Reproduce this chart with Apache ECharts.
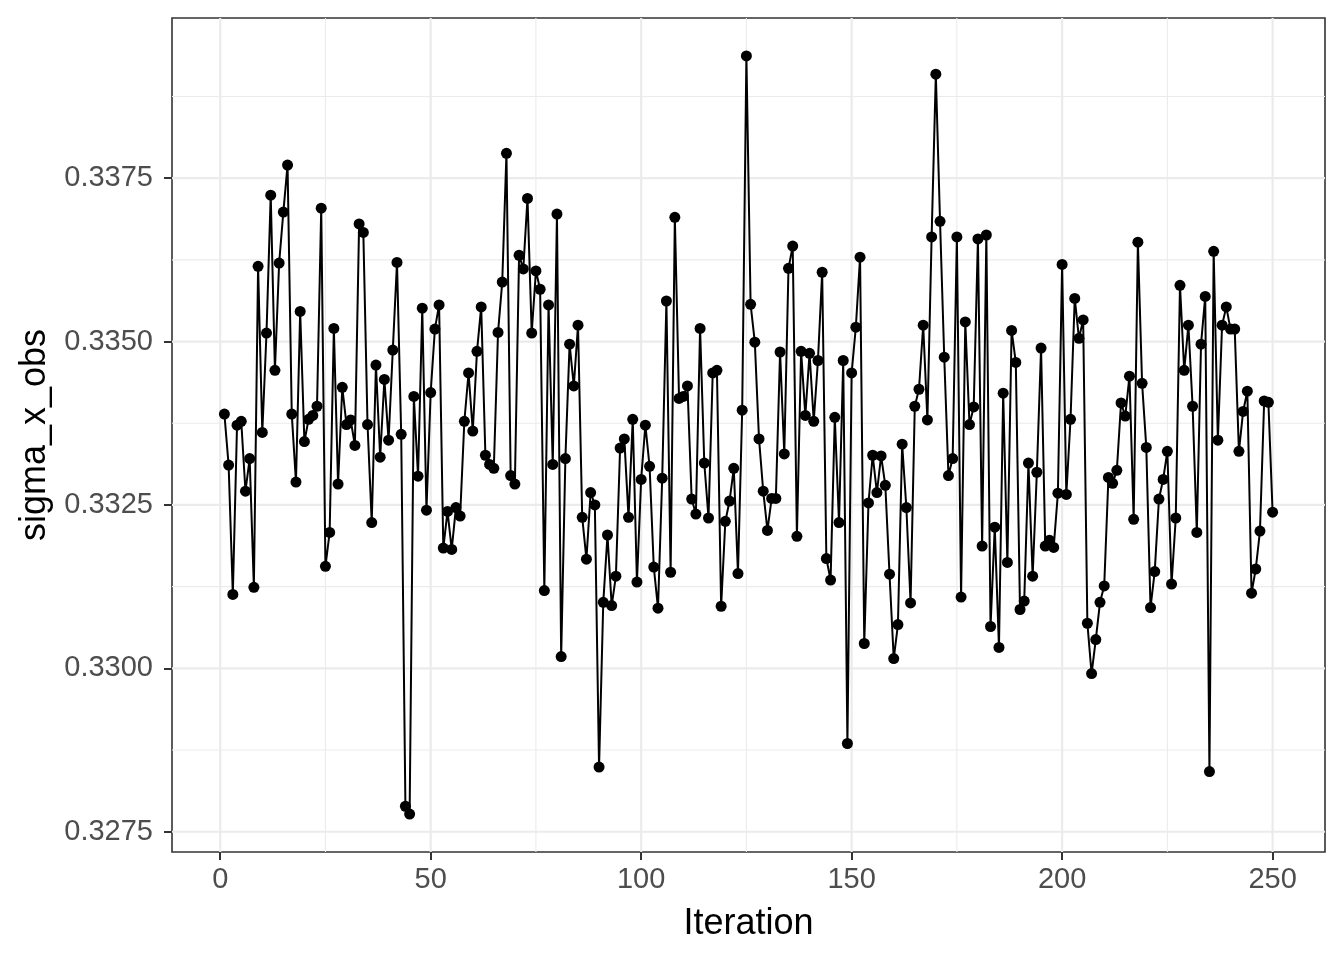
<!DOCTYPE html>
<html>
<head>
<meta charset="utf-8">
<script src="https://cdn.jsdelivr.net/npm/echarts@6/dist/echarts.min.js"></script>
<style>
  html, body { margin: 0; padding: 0; background: #fff; }
  #chart { width: 1344px; height: 960px; }
</style>
</head>
<body>
<div id="chart"></div>
<script>
// sigma_x_obs trace, iterations 1..250
var sigmaXObs = [
  0.33389, 0.33311, 0.33113, 0.33372, 0.33378, 0.33271, 0.33321, 0.33124, 0.33615, 0.33361,
  0.33513, 0.33724, 0.33456, 0.33620, 0.33698, 0.33770, 0.33389, 0.33285, 0.33546, 0.33347,
  0.33381, 0.33387, 0.33401, 0.33704, 0.33156, 0.33208, 0.33520, 0.33282, 0.33430, 0.33373,
  0.33380, 0.33341, 0.33680, 0.33667, 0.33373, 0.33223, 0.33464, 0.33323, 0.33442, 0.33349,
  0.33487, 0.33621, 0.33358, 0.32789, 0.32777, 0.33416, 0.33294, 0.33551, 0.33242, 0.33422,
  0.33519, 0.33556, 0.33184, 0.33240, 0.33182, 0.33246, 0.33233, 0.33378, 0.33452, 0.33363,
  0.33485, 0.33553, 0.33326, 0.33312, 0.33306, 0.33514, 0.33591, 0.33788, 0.33295, 0.33282,
  0.33632, 0.33611, 0.33719, 0.33513, 0.33608, 0.33580, 0.33119, 0.33556, 0.33312, 0.33695,
  0.33018, 0.33321, 0.33496, 0.33432, 0.33525, 0.33231, 0.33167, 0.33269, 0.33250, 0.32849,
  0.33101, 0.33204, 0.33096, 0.33141, 0.33337, 0.33351, 0.33231, 0.33381, 0.33132, 0.33289,
  0.33372, 0.33309, 0.33155, 0.33092, 0.33291, 0.33562, 0.33147, 0.33690, 0.33413, 0.33416,
  0.33432, 0.33259, 0.33236, 0.33520, 0.33314, 0.33230, 0.33452, 0.33456, 0.33095, 0.33225,
  0.33256, 0.33306, 0.33145, 0.33395, 0.33937, 0.33557, 0.33499, 0.33351, 0.33271, 0.33211,
  0.33260, 0.33260, 0.33484, 0.33328, 0.33612, 0.33646, 0.33202, 0.33485, 0.33387, 0.33482,
  0.33378, 0.33471, 0.33606, 0.33168, 0.33135, 0.33384, 0.33223, 0.33471, 0.32885, 0.33452,
  0.33522, 0.33629, 0.33038, 0.33253, 0.33326, 0.33269, 0.33325, 0.33280, 0.33144, 0.33015,
  0.33067, 0.33343, 0.33246, 0.33100, 0.33401, 0.33427, 0.33525, 0.33380, 0.33660, 0.33909,
  0.33684, 0.33476, 0.33295, 0.33321, 0.33660, 0.33109, 0.33530, 0.33373, 0.33400, 0.33657,
  0.33187, 0.33663, 0.33064, 0.33216, 0.33032, 0.33421, 0.33162, 0.33517, 0.33468, 0.33090,
  0.33103, 0.33314, 0.33141, 0.33300, 0.33490, 0.33187, 0.33196, 0.33185, 0.33268, 0.33618,
  0.33266, 0.33381, 0.33566, 0.33505, 0.33533, 0.33069, 0.32992, 0.33044, 0.33101, 0.33126,
  0.33292, 0.33283, 0.33303, 0.33406, 0.33386, 0.33447, 0.33228, 0.33652, 0.33436, 0.33338,
  0.33093, 0.33148, 0.33259, 0.33289, 0.33332, 0.33129, 0.33230, 0.33586, 0.33456, 0.33525,
  0.33401, 0.33208, 0.33496, 0.33569, 0.32842, 0.33638, 0.33349, 0.33525, 0.33553, 0.33519,
  0.33519, 0.33332, 0.33393, 0.33424, 0.33115, 0.33152, 0.33210, 0.33409, 0.33407, 0.33239
];

// tick / grid values
var xMajor = [0, 50, 100, 150, 200, 250];
var xMinor = [25, 75, 125, 175, 225];
var yMajor = [0.3275, 0.3300, 0.3325, 0.3350, 0.3375];
var yMinor = [0.32875, 0.33125, 0.33375, 0.33625, 0.33875];

var xRange = [-11.45, 262.45];
var yRange = [0.32719, 0.33995];

var FONT = '"Liberation Sans", Arial, Helvetica, sans-serif';

var points = sigmaXObs.map(function (v, i) {
  return [i + 1, v];
});

// grid lines as plain line series spanning the axis range
function gridSeries(dir, v, width) {
  var data = dir === 'x'
    ? [[v, yRange[0]], [v, yRange[1]]]
    : [[xRange[0], v], [xRange[1], v]];
  return {
    type: 'line',
    z: 1,
    silent: true,
    symbol: 'none',
    data: data,
    lineStyle: { color: '#EBEBEB', width: width },
    emphasis: { disabled: true }
  };
}

var series = [];
xMinor.forEach(function (v) { series.push(gridSeries('x', v, 1.1)); });
yMinor.forEach(function (v) { series.push(gridSeries('y', v, 1.1)); });
xMajor.forEach(function (v) { series.push(gridSeries('x', v, 2.2)); });
yMajor.forEach(function (v) { series.push(gridSeries('y', v, 2.2)); });

series.push({
  name: 'sigma_x_obs',
  type: 'line',
  z: 3,
  data: points,
  symbol: 'circle',
  symbolSize: 11,
  showAllSymbol: true,
  itemStyle: { color: '#000000' },
  lineStyle: { color: '#000000', width: 2 }
});

var chart = echarts.init(document.getElementById('chart'));
chart.setOption({
  animation: false,
  backgroundColor: '#ffffff',
  textStyle: { fontFamily: FONT },
  grid: {
    left: 172,
    right: 19,
    top: 18,
    bottom: 108,
    show: true,
    borderColor: '#333333',
    borderWidth: 1.6,
    backgroundColor: 'transparent'
  },
  xAxis: {
    type: 'value',
    min: xRange[0],
    max: xRange[1],
    name: 'Iteration',
    nameLocation: 'middle',
    nameGap: 54,
    nameTextStyle: { fontSize: 36, color: '#000000', fontFamily: FONT },
    axisLine: { show: false, onZero: false },
    axisTick: {
      show: true,
      customValues: xMajor,
      length: 8,
      lineStyle: { color: '#333333', width: 2 }
    },
    axisLabel: {
      customValues: xMajor,
      fontSize: 29,
      color: '#4D4D4D',
      margin: 13,
      fontFamily: FONT
    },
    splitLine: { show: false }
  },
  yAxis: {
    type: 'value',
    min: yRange[0],
    max: yRange[1],
    name: 'sigma_x_obs',
    nameLocation: 'middle',
    nameGap: 100,
    nameTextStyle: { fontSize: 36, color: '#000000', fontFamily: FONT },
    axisLine: { show: false, onZero: false },
    axisTick: {
      show: true,
      customValues: yMajor,
      length: 8,
      lineStyle: { color: '#333333', width: 2 }
    },
    axisLabel: {
      customValues: yMajor,
      fontSize: 29,
      color: '#4D4D4D',
      margin: 19,
      fontFamily: FONT,
      formatter: function (v) { return v.toFixed(4); }
    },
    splitLine: { show: false }
  },
  series: series
});
</script>
</body>
</html>
